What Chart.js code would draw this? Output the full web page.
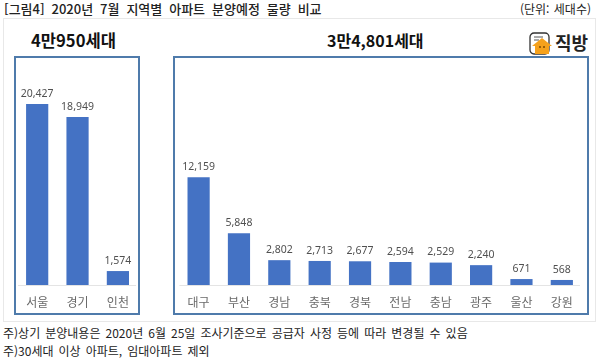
<!DOCTYPE html>
<html lang="ko">
<head>
<meta charset="utf-8">
<script src="https://cdn.jsdelivr.net/npm/chart.js@4"></script>
<style>
  html, body { margin: 0; padding: 0; background: #fff; }
  #page { position: relative; width: 600px; height: 360px; overflow: hidden; font-family: "Noto Sans CJK KR", sans-serif; color: #222; }
  #page > * { position: absolute; }
  #frame { left: 3px; top: 18px; width: 593px; height: 304px; border: 1px solid #e8e8e8; box-sizing: border-box; }
  .box { border: 2px solid #4f7bab; box-sizing: border-box; top: 56px; height: 259px; }
  #boxLeft { left: 14px; width: 126px; }
  #boxRight { left: 173px; width: 416px; }
  #chartWrap { left: 0; top: 56px; width: 600px; height: 260px; }
  .line { white-space: nowrap; line-height: 1; }
  #title { left: 4px; top: 2px; font-size: 13px; font-weight: 500; word-spacing: 3.3px; }
  #unit { right: 9px; top: 3px; font-size: 12px; word-spacing: 1px; }
  .total { font-size: 16.6px; font-weight: 700; top: 32px; color: #111; }
  #note1 { left: 3px; top: 327px; font-size: 12px; word-spacing: 1.7px; }
  #note2 { left: 3px; top: 345px; font-size: 12px; word-spacing: 1.7px; }
  #logoText { left: 555px; top: 33px; font-size: 18px; font-weight: 700; color: #222; }
  #logoIcon { left: 529px; top: 32px; }
</style>
</head>
<body>
<div id="page">
  <div id="frame"></div>
  <div id="chartWrap"><canvas id="chart" width="600" height="260"></canvas></div>
  <div class="box" id="boxLeft"></div>
  <div class="box" id="boxRight"></div>
  <div class="line" id="title">[그림4] 2020년 7월 지역별 아파트 분양예정 물량 비교</div>
  <div class="line" id="unit">(단위: 세대수)</div>
  <div class="line total" style="left:31px">4만950세대</div>
  <div class="line total" style="left:327px;font-size:16px">3만4,801세대</div>
  <svg id="logoIcon" width="24" height="23" viewBox="0 0 24 23">
    <rect x="1" y="1" width="19" height="21" rx="4" fill="#fff" stroke="#333" stroke-width="1.3"/>
    <path d="M5 5h9M5 8h5" stroke="#555" stroke-width="1"/>
    <path d="M3 14 L13 6 L23 14 L20 14 L20 22 L6 22 L6 14 Z" fill="#f5a11c"/>
    <circle cx="11" cy="15" r="1" fill="#7a4a00"/><circle cx="15" cy="15" r="1" fill="#7a4a00"/>
  </svg>
  <div class="line" id="logoText">직방</div>
  <div class="line" id="note1">주)상기 분양내용은 2020년 6월 25일 조사기준으로 공급자 사정 등에 따라 변경될 수 있음</div>
  <div class="line" id="note2">주)30세대 이상 아파트, 임대아파트 제외</div>
</div>
<script>
// blank label keeps the gap between the two boxes
const regions = ["서울", "경기", "인천", "", "대구", "부산", "경남", "충북", "경북", "전남", "충남", "광주", "울산", "강원"];
const households = [20427, 18949, 1574, null, 12159, 5848, 2802, 2713, 2677, 2594, 2529, 2240, 671, 568];

const valueLabels = {
  id: "valueLabels",
  afterDatasetsDraw(chart) {
    const ctx = chart.ctx;
    ctx.save();
    ctx.font = '10.5px "Noto Sans", sans-serif';
    ctx.fillStyle = "#505050";
    ctx.textAlign = "center";
    ctx.textBaseline = "bottom";
    chart.getDatasetMeta(0).data.forEach((bar, i) => {
      if (households[i] === null) return;
      ctx.fillText(households[i].toLocaleString("en-US"), bar.x, bar.y - 5);
    });
    ctx.restore();
  }
};

// light baseline under each group only, not across the gap
const groupBaselines = {
  id: "groupBaselines",
  beforeDatasetsDraw(chart) {
    const x = chart.scales.x;
    const y = chart.scales.y.getPixelForValue(0);
    const step = x.getPixelForTick(1) - x.getPixelForTick(0);
    const ctx = chart.ctx;
    ctx.save();
    ctx.strokeStyle = "#e4e4e4";
    ctx.lineWidth = 1;
    [[0, 2], [4, 13]].forEach(([from, to]) => {
      ctx.beginPath();
      ctx.moveTo(x.getPixelForTick(from) - step / 2 + 1, y + 0.5);
      ctx.lineTo(x.getPixelForTick(to) + step / 2 - 2, y + 0.5);
      ctx.stroke();
    });
    ctx.restore();
  }
};

new Chart(document.getElementById("chart"), {
  type: "bar",
  data: {
    labels: regions,
    datasets: [{
      data: households,
      backgroundColor: "#4472c4",
      categoryPercentage: 1,
      barPercentage: 0.55
    }]
  },
  options: {
    responsive: false,
    animation: false,
    layout: { padding: { left: 17, right: 18, top: 0, bottom: 0 } },
    plugins: { legend: { display: false }, tooltip: { enabled: false } },
    scales: {
      x: {
        grid: { display: false },
        border: { display: false },
        afterFit(scale) { scale.height = 31; },
        ticks: {
          color: "#6a6a6a",
          padding: 2,
          maxRotation: 0,
          autoSkip: false,
          font: { size: 12, family: '"Noto Sans CJK KR", sans-serif' }
        }
      },
      y: {
        display: false,
        min: 0,
        max: 25844
      }
    }
  },
  plugins: [groupBaselines, valueLabels]
});
</script>
</body>
</html>
